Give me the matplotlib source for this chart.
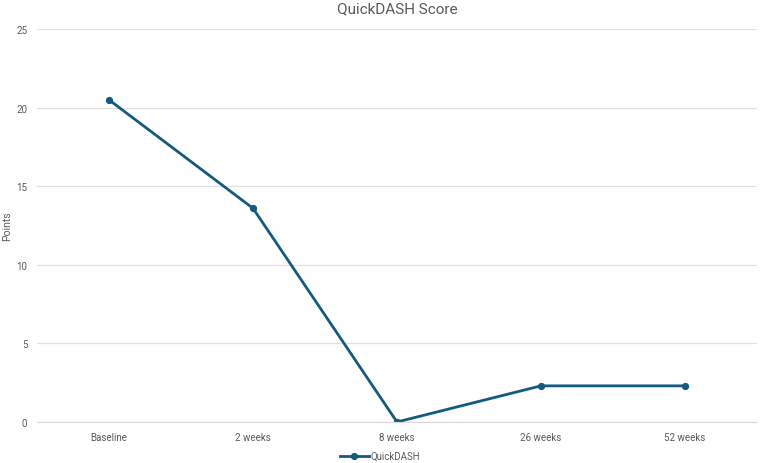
import matplotlib
matplotlib.use("Agg")
import matplotlib.pyplot as plt
from matplotlib.lines import Line2D

categories = ["Baseline", "2 weeks", "8 weeks", "26 weeks", "52 weeks"]
scores = [20.5, 13.6, 0.0, 2.3, 2.3]
yticks = [0, 5, 10, 15, 20, 25]

plt.rcParams['font.family'] = ['Roboto', 'DejaVu Sans']
color = "#135a80"
grey = "#595959"

fig = plt.figure(figsize=(7.6, 4.64), dpi=100)
ax = fig.add_axes([0.0487, 0.0884, 0.9473, 0.8466])
x = list(range(len(categories)))
ax.plot(x, scores, color=color, lw=2.0, marker='o', ms=4.2, label="QuickDASH")
ax.set_xlim(-0.5, len(categories) - 0.5)
ax.set_ylim(0, 25)
ax.set_yticks(yticks)
ax.set_xticks(x)
ax.set_xticklabels(categories)
ax.tick_params(axis='both', length=0, labelsize=7, colors=grey, pad=7)
ax.grid(axis='y', color="#e0e0e0", lw=0.9)
ax.set_axisbelow(True)
for s in ["top", "right", "left"]:
    ax.spines[s].set_visible(False)
ax.spines["bottom"].set_color("#d9d9d9")
ax.set_ylabel("Points", fontsize=7.5, color=grey)
ax.yaxis.set_label_coords(-0.034, 0.5)
ax.set_title("QuickDASH Score", fontsize=11, color=grey, pad=12)
fig.legend(handles=[Line2D([0], [0], color=color, lw=2.0, marker='o', ms=4.2)],
           labels=["QuickDASH"], loc='center', bbox_to_anchor=(0.5, 0.015),
           frameon=False, fontsize=7, labelcolor=grey, handlelength=3, handletextpad=0.2)
fig.savefig("out.png", dpi=100)
